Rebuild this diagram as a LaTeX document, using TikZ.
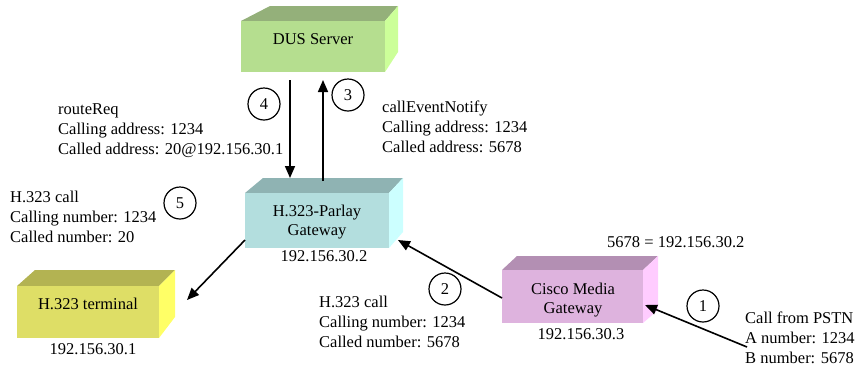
\documentclass[tikz,border=0pt]{standalone}
\usepackage{fontspec}
\setmainfont{Liberation Serif}
\usetikzlibrary{arrows.meta,fit}
\definecolor{dusf}{HTML}{B5DE8F}\definecolor{dust}{HTML}{94B07A}\definecolor{duss}{HTML}{CCFF99}
\definecolor{parf}{HTML}{B3DEDE}\definecolor{part}{HTML}{8FB3B3}\definecolor{pars}{HTML}{CCFFFF}
\definecolor{cisf}{HTML}{DEB3DE}\definecolor{cist}{HTML}{B38FB3}\definecolor{ciss}{HTML}{FFCCFF}
\definecolor{terf}{HTML}{DEDE66}\definecolor{tert}{HTML}{B3B352}\definecolor{ters}{HTML}{FFFF66}
% #1 name/colour prefix, #2 x1, #3 y1 (front top), #4 x2, #5 y2 (front bottom),
% #6 back-left x, #7 back-right x, #8 back top y, #9 side bottom y
\newcommand\cubebox[9]{%
  \fill[#1t] (#2,#3) -- (#6,#8) -- (#7,#8) -- (#4,#3) -- cycle;
  \fill[#1s] (#4,#3) -- (#7,#8) -- (#7,#9) -- (#4,#5) -- cycle;
  \fill[#1f] (#2,#3) rectangle (#4,#5);
  \node[fit={(#2,#3) (#4,#5)}, inner sep=0pt] (#1) {};
}
\begin{document}
\begin{tikzpicture}[x=1pt,y=-1pt,
  txt/.style={font=\fontsize{16.5}{20}\selectfont, inner sep=0pt, align=left, anchor=base west},
  boxtxt/.style={font=\fontsize{16.5}{18.5}\selectfont, inner sep=0pt, align=center, anchor=base},
  num/.style={draw, circle, line width=1.2pt, minimum size=32pt, inner sep=0pt, font=\fontsize{16.5}{20}\selectfont},
  conn/.style={line width=1.6pt, -{Triangle[length=12pt,width=10pt]}}]
\useasboundingbox (0,0) rectangle (857,368);

\cubebox{dus}{241}{21}{385}{72}{270}{398}{6}{52}
\cubebox{par}{245}{193}{389}{248}{263}{403}{178}{232}
\cubebox{cis}{502}{270}{643}{323}{517}{658}{256}{310}
\cubebox{ter}{17}{286}{159}{338}{35}{175}{270}{317}

% base anchor of a multi-line text = baseline of its last line
\node[boxtxt] (dustxt) at (313,44) {DUS Server};
\node[boxtxt] (partxt) at (317,235) {H.323-Parlay\\Gateway};
\node[boxtxt] (cistxt) at (573,313) {Cisco Media\\Gateway};
\node[boxtxt] (tertxt) at (88,309) {H.323 terminal};

\node[boxtxt] (parip) at (324,261) {192.156.30.2};
\node[boxtxt] (cisip) at (581,339) {192.156.30.3};
\node[boxtxt] (terip) at (93,354) {192.156.30.1};

\node[txt] (route) at (58,154) {routeReq\\Calling address: 1234\\Called address: 20@192.156.30.1};
\node[txt] (notify) at (382,152) {callEventNotify\\Calling address: 1234\\Called address: 5678};
\node[txt] (call5) at (10,242) {H.323 call\\Calling number: 1234\\Called number: 20};
\node[txt] (call2) at (319,347) {H.323 call\\Calling number: 1234\\Called number: 5678};
\node[txt] (pstn) at (745,363) {Call from PSTN\\A number: 1234\\B number: 5678};
\node[txt] (map) at (607,247) {5678 = 192.156.30.2};

\node[num] (n4) at (264,104) {4};
\node[num] (n3) at (348,95) {3};
\node[num] (n5) at (180,203) {5};
\node[num] (n2) at (445,289) {2};
\node[num] (n1) at (703,306) {1};

\coordinate (a4s) at (290,80);
\coordinate (a4e) at (290,178);
\coordinate (a3s) at (323,181);
\coordinate (a3e) at (323,80);
\coordinate (a5s) at (245,240);
\coordinate (a5e) at (187,300);
\coordinate (a2s) at (502,298);
\coordinate (a2e) at (398,240);
\coordinate (a1s) at (747,347);
\coordinate (a1e) at (645,305);

\draw[conn] (a4s) -- (a4e);
\draw[conn] (a3s) -- (a3e);
\draw[conn] (a5s) -- (a5e);
\draw[conn] (a2s) -- (a2e);
\draw[conn] (a1s) -- (a1e);
\end{tikzpicture}
\end{document}
